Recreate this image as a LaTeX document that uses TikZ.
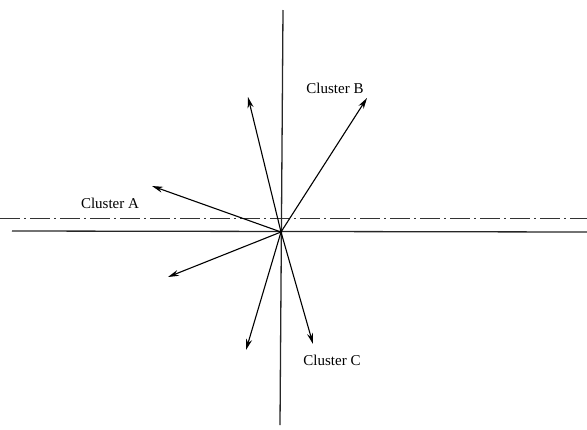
\documentclass[tikz,border=0pt]{standalone}
\usepackage{fontspec}
\setmainfont{Liberation Serif}
\usetikzlibrary{arrows.meta}
\begin{document}
\begin{tikzpicture}[x=1pt,y=-1pt,
  axis/.style={line width=1.3pt,black!85},
  refline/.style={line width=0.7pt,black!80,dash pattern=on 20pt off 4pt on 2pt off 4pt},
  vec/.style={line width=1.1pt,-{Stealth[length=11pt,width=6pt]}},
  lbl/.style={font=\fontsize{15}{17}\selectfont,inner sep=0pt}]
\useasboundingbox (0,0) rectangle (587,429);
% reference points
\coordinate (O) at (281,232);
\coordinate (vtop) at (283,10);
\coordinate (vbot) at (280,425);
\coordinate (hl) at (12,231);
\coordinate (hr) at (587,232);
\coordinate (dl) at (0,218);
\coordinate (dr) at (587,218);
\coordinate (tA) at (152,186);
\coordinate (tUL) at (248,97);
\coordinate (tB) at (367,98);
\coordinate (tLL) at (168,277);
\coordinate (tD) at (246,350);
\coordinate (tC) at (313,344);
% axes
\draw[refline] (dl) -- (dr);
\draw[axis] (hl) -- (hr);
\draw[axis] (vtop) -- (vbot);
% vectors
\draw[vec] (O) -- (tA);
\draw[vec] (O) -- (tUL);
\draw[vec] (O) -- (tB);
\draw[vec] (O) -- (tLL);
\draw[vec] (O) -- (tD);
\draw[vec] (O) -- (tC);
% labels
\node[lbl] (lA) at (110,203) {Cluster A};
\node[lbl] (lB) at (335,88) {Cluster B};
\node[lbl] (lC) at (332,360) {Cluster C};
\end{tikzpicture}
\end{document}
